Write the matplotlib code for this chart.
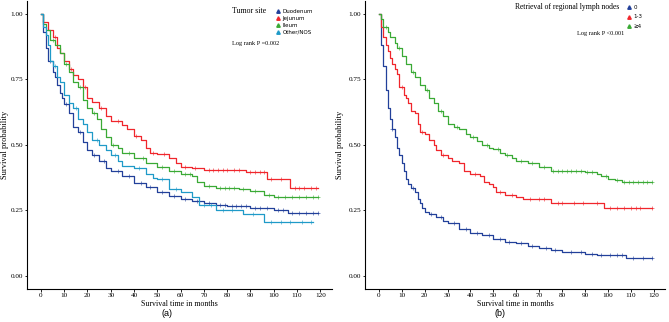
import numpy as np
import matplotlib
matplotlib.use("Agg")
import matplotlib.pyplot as plt
from matplotlib.lines import Line2D

# ---- panel (a): tumor site ----
duo_t = [0, 1, 2, 3, 5, 6, 7, 8, 9, 10, 12, 14, 16, 18, 20, 22, 25, 28, 30, 35, 40, 45, 50, 55, 60, 65, 70, 75, 80, 90, 100, 106]
duo_s = [1.0, 0.93, 0.87, 0.82, 0.78, 0.76, 0.73, 0.70, 0.68, 0.655, 0.62, 0.57, 0.55, 0.51, 0.48, 0.46, 0.44, 0.41, 0.40, 0.38, 0.355, 0.34, 0.32, 0.305, 0.295, 0.285, 0.28, 0.27, 0.265, 0.26, 0.25, 0.24]
duo_end = 119
duo_c = [4, 11, 17, 23, 27, 33, 38, 43, 47, 52, 57, 62, 67, 72, 77, 79, 82, 84, 86, 88, 92, 94, 97, 102, 104, 108, 111, 114, 117, 119]

jej_t = [0, 1, 3, 5, 7, 8, 10, 12, 14, 16, 18, 20, 22, 25, 28, 30, 35, 37, 40, 43, 45, 47, 50, 55, 58, 60, 65, 70, 88, 97, 107]
jej_s = [1.0, 0.97, 0.94, 0.91, 0.87, 0.85, 0.82, 0.79, 0.765, 0.75, 0.72, 0.68, 0.665, 0.64, 0.61, 0.59, 0.575, 0.56, 0.535, 0.52, 0.49, 0.47, 0.465, 0.45, 0.43, 0.415, 0.41, 0.405, 0.395, 0.37, 0.335]
jej_end = 119
jej_c = [6, 13, 19, 26, 33, 41, 48, 53, 62, 66, 72, 74, 76, 78, 80, 83, 85, 90, 92, 94, 96, 99, 103, 109, 111, 113, 116, 118]

ile_t = [0, 1, 2, 4, 6, 8, 10, 12, 14, 16, 18, 20, 22, 24, 26, 28, 30, 33, 35, 40, 45, 50, 55, 60, 65, 67, 70, 75, 85, 90, 96, 100]
ile_s = [1.0, 0.96, 0.94, 0.90, 0.88, 0.85, 0.81, 0.78, 0.74, 0.72, 0.67, 0.64, 0.62, 0.60, 0.56, 0.53, 0.50, 0.49, 0.47, 0.45, 0.43, 0.415, 0.40, 0.39, 0.38, 0.36, 0.345, 0.335, 0.33, 0.325, 0.31, 0.30]
ile_end = 119
ile_c = [5, 11, 17, 23, 31, 38, 44, 52, 57, 62, 64, 72, 77, 79, 81, 83, 87, 92, 98, 102, 105, 108, 111, 114, 117, 119]

oth_t = [0, 1, 2, 3, 4, 5, 7, 8, 10, 12, 14, 16, 18, 20, 22, 25, 28, 30, 33, 35, 40, 45, 48, 50, 55, 60, 65, 68, 75, 87, 96]
oth_s = [1.0, 0.95, 0.92, 0.88, 0.82, 0.80, 0.76, 0.74, 0.69, 0.66, 0.64, 0.60, 0.58, 0.55, 0.52, 0.50, 0.48, 0.46, 0.44, 0.42, 0.41, 0.39, 0.375, 0.37, 0.33, 0.32, 0.30, 0.27, 0.25, 0.235, 0.205]
oth_end = 117
oth_c = [6, 15, 24, 32, 42, 52, 58, 70, 73, 78, 82, 91, 99, 103, 107, 112, 116]

# ---- panel (b): retrieval of regional lymph nodes ----
n0_t = [0, 1, 2, 3, 4, 5, 6, 7, 8, 9, 10, 11, 12, 13, 14, 16, 17, 18, 19, 20, 22, 25, 28, 30, 35, 40, 45, 50, 55, 60, 65, 70, 75, 80, 90, 95, 108]
n0_s = [1.0, 0.88, 0.80, 0.71, 0.64, 0.60, 0.56, 0.53, 0.49, 0.46, 0.43, 0.40, 0.37, 0.35, 0.335, 0.32, 0.295, 0.28, 0.26, 0.245, 0.235, 0.225, 0.21, 0.20, 0.18, 0.165, 0.155, 0.14, 0.13, 0.125, 0.115, 0.105, 0.10, 0.09, 0.085, 0.08, 0.07]
n0_end = 119
n0_c = [6, 15, 23, 27, 33, 38, 43, 48, 53, 57, 62, 67, 73, 77, 84, 88, 93, 97, 101, 104, 106, 111, 115, 119]

n13_t = [0, 1, 2, 3, 4, 5, 6, 7, 8, 9, 11, 12, 13, 14, 16, 17, 18, 20, 22, 24, 25, 27, 30, 32, 35, 37, 40, 44, 46, 48, 50, 51, 55, 60, 63, 75, 98]
n13_s = [1.0, 0.95, 0.91, 0.88, 0.86, 0.83, 0.81, 0.79, 0.77, 0.72, 0.69, 0.68, 0.66, 0.63, 0.62, 0.58, 0.55, 0.54, 0.52, 0.50, 0.48, 0.46, 0.45, 0.44, 0.43, 0.40, 0.39, 0.38, 0.36, 0.35, 0.34, 0.32, 0.31, 0.30, 0.295, 0.28, 0.26]
n13_end = 119
n13_c = [10, 19, 28, 42, 53, 58, 66, 70, 72, 78, 80, 85, 89, 95, 101, 104, 107, 110, 112, 114, 119]

n4_t = [0, 1, 2, 4, 5, 7, 8, 10, 12, 14, 16, 18, 20, 22, 24, 26, 28, 30, 33, 35, 38, 40, 43, 45, 48, 50, 53, 55, 58, 60, 65, 70, 75, 85, 90, 95, 97, 100, 103, 106]
n4_s = [1.0, 0.98, 0.95, 0.93, 0.91, 0.89, 0.87, 0.84, 0.81, 0.78, 0.76, 0.73, 0.71, 0.68, 0.66, 0.63, 0.61, 0.58, 0.57, 0.56, 0.54, 0.53, 0.515, 0.50, 0.49, 0.485, 0.47, 0.46, 0.45, 0.44, 0.43, 0.415, 0.40, 0.40, 0.395, 0.39, 0.38, 0.37, 0.365, 0.36]
n4_end = 119
n4_c = [3, 9, 15, 21, 27, 34, 41, 47, 52, 56, 62, 67, 72, 76, 78, 80, 82, 84, 86, 88, 91, 93, 99, 104, 107, 109, 111, 113, 115, 117, 119]

x_ticks = [0, 10, 20, 30, 40, 50, 60, 70, 80, 90, 100, 110, 120]
y_ticks = [0.00, 0.25, 0.50, 0.75, 1.00]

NAVY = "#22409A"
RED = "#F0262C"
GREEN = "#3AAA35"
TEAL = "#1F9AC8"

panel_a = [("Duodenum", duo_t, duo_s, duo_end, duo_c, NAVY),
           ("Jejunum", jej_t, jej_s, jej_end, jej_c, RED),
           ("Ileum", ile_t, ile_s, ile_end, ile_c, GREEN),
           ("Other/NOS", oth_t, oth_s, oth_end, oth_c, TEAL)]
panel_b = [("0", n0_t, n0_s, n0_end, n0_c, NAVY),
           ("1-3", n13_t, n13_s, n13_end, n13_c, RED),
           ("\u22654", n4_t, n4_s, n4_end, n4_c, GREEN)]

SERIF = "Liberation Serif"
AX_H = 0.895 * 322  # axes height in px


def km_panel(ax, curves, left_px, width_px):
    for name, t, s, end, cens, col in curves:
        t = np.asarray(t, float)
        s = np.asarray(s, float)
        tt = np.append(t, end)
        ss = np.append(s, s[-1])
        ax.step(tt, ss, where="post", color=col, lw=0.9)
        cens = np.asarray(cens, float)
        idx = np.searchsorted(t, cens, side="right") - 1
        ax.plot(cens, s[idx], ls="none", marker="+", ms=2.5, mew=0.5, color=col, alpha=0.8)
    ax.set_xlim(-5.95, 124.95)
    ax.set_ylim(-0.05, 1.05)
    ax.set_xticks(x_ticks)
    ax.set_yticks(y_ticks)
    ax.set_yticklabels(["%.2f" % v for v in y_ticks])
    for sp in ("top", "right"):
        ax.spines[sp].set_visible(False)
    for sp in ("left", "bottom"):
        ax.spines[sp].set_linewidth(0.8)
    ax.tick_params(length=1.8, width=0.6, labelsize=5.2, pad=1)
    for lab in ax.get_xticklabels() + ax.get_yticklabels():
        lab.set_family(SERIF)
    ax.set_xlabel("Survival time in months", family=SERIF, fontsize=5.7)
    ax.set_ylabel("Survival probability", family=SERIF, fontsize=6)
    ax.xaxis.set_label_coords(0.5, -(304.5 - 289) / AX_H)
    ax.yaxis.set_label_coords((5 - left_px) / width_px, 0.5)
    ax.xaxis.label.set_va("center")
    ax.yaxis.label.set_va("center")


fig = plt.figure(figsize=(6.69, 3.22), dpi=100)
ax1 = fig.add_axes([0.0404, 0.1025, 0.4556, 0.895])
ax2 = fig.add_axes([0.5456, 0.1025, 0.449, 0.895])

km_panel(ax1, panel_a, 27, 0.4556 * 669)
km_panel(ax2, panel_b, 365, 0.449 * 669)
ax2.yaxis.set_label_coords((340 - 365) / (0.449 * 669), 0.5)

# legends
h_a = [Line2D([], [], ls="none", marker="^", ms=2.5, color=c[5]) for c in panel_a]
leg1 = ax1.legend(h_a, [c[0] for c in panel_a], loc="upper left", bbox_to_anchor=(0.81, 0.98),
                  frameon=False, fontsize=4, handlelength=0.8, handletextpad=0.4,
                  labelspacing=0.35, borderaxespad=0)
fig.text(232 / 669, 1 - 11 / 322, "Tumor site", family=SERIF, fontsize=5.7, va="center")
fig.text(232 / 669, 1 - 43 / 322, "Log rank P =0.002", family=SERIF, fontsize=4.5, va="center")

h_b = [Line2D([], [], ls="none", marker="^", ms=2.5, color=c[5]) for c in panel_b]
leg2 = ax2.legend(h_b, [c[0] for c in panel_b], loc="upper left", bbox_to_anchor=(0.865, 0.993),
                  frameon=False, fontsize=4, handlelength=0.8, handletextpad=0.4,
                  labelspacing=0.8, borderaxespad=0)
fig.text(515 / 669, 1 - 7 / 322, "Retrieval of regional lymph nodes", family=SERIF, fontsize=5.5, va="center")
fig.text(577 / 669, 1 - 33 / 322, "Log rank P <0.001", family=SERIF, fontsize=4.5, va="center")

fig.text(167 / 669, 1 - 314 / 322, "(a)", family="Liberation Sans", fontsize=6.5, ha="center", va="center")
fig.text(500 / 669, 1 - 314 / 322, "(b)", family="Liberation Sans", fontsize=6.5, ha="center", va="center")

fig.savefig("out.png", dpi=100)
